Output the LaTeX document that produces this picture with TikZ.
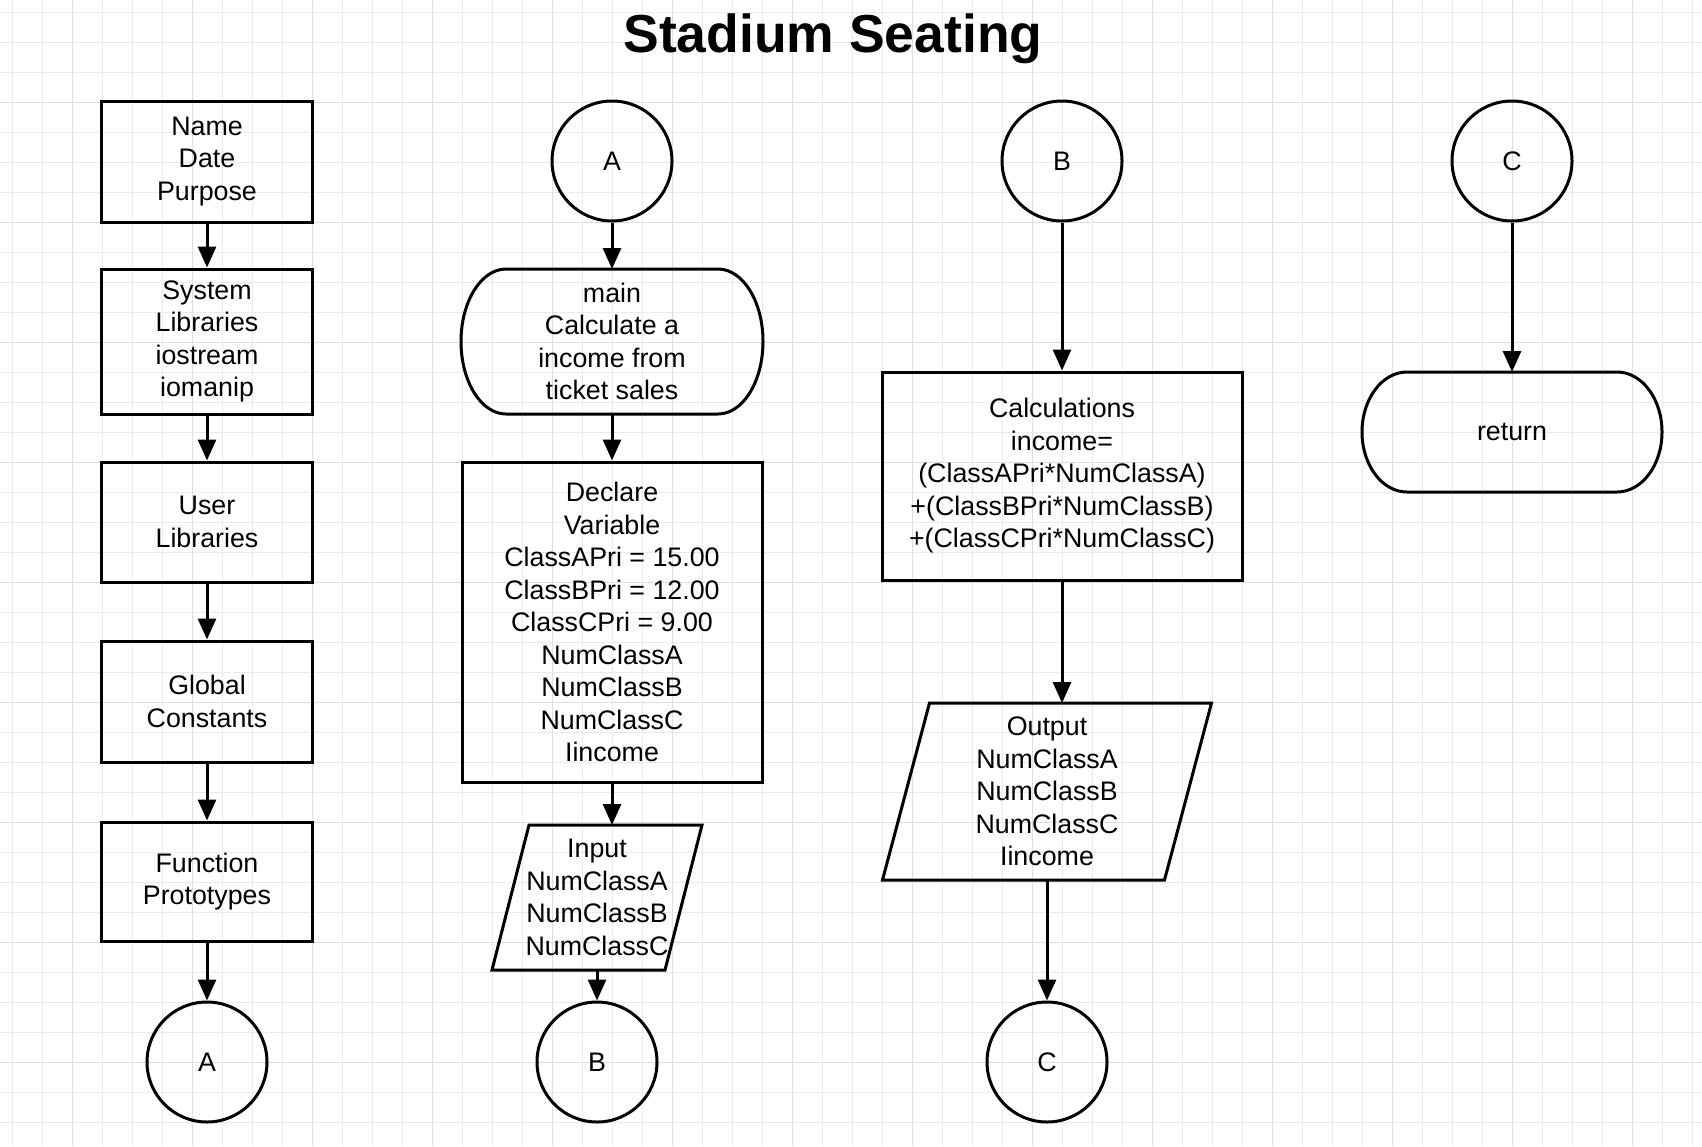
\documentclass[tikz,border=0pt]{standalone}
\usepackage{fontspec}
\setmainfont{Liberation Sans}
\usetikzlibrary{arrows.meta,calc}
\tikzset{
  line/.style={line width=3pt},
  txt/.style={align=center,inner sep=0pt,outer sep=1.5pt,font=\fontsize{26.8}{32.5}\selectfont},
  box/.style={txt,line,draw,minimum width=211pt},
  plain/.style={txt,outer sep=0pt},
  conn/.style={txt,circle,line,draw,minimum size=120pt},
  head/.style={anchor=base,font=\fontsize{53.5}{60}\selectfont\bfseries},
  arr/.style={line,-{Triangle[length=21pt,width=18pt]}},
  minor/.style={line width=1pt,color=black!8},
  major/.style={line width=1pt,color=black!13},
}
%起止框:两端是半椭圆
\newcommand\termline[1]{%
  \draw[line] let \p1=(#1.north west), \p2=(#1.south east), \n1={0.5*(\y1-\y2)} in
    ($(#1.north west)+(45,0)$) -- ($(#1.north east)+(-45,0)$)
    arc[start angle=90,end angle=-90,x radius=45pt,y radius=\n1]
    -- ($(#1.south west)+(45,0)$)
    arc[start angle=270,end angle=90,x radius=45pt,y radius=\n1] -- cycle;}
%输入输出框:平行四边形
\newcommand\slantline[2]{%
  \draw[line] ([xshift=#2pt]#1.north west) -- (#1.north east)
    -- ([xshift=-#2pt]#1.south east) -- (#1.south west) -- cycle;}
\begin{document}
\begin{tikzpicture}[x=1pt,y=-1pt]
    \useasboundingbox[fill=white] (0,0) rectangle (1702,1146);
    %画背景网格
    \foreach \x in {12.7,42.7,...,1702} \draw[minor] (\x,0) -- (\x,1146);
    \foreach \y in {12.7,42.7,...,1146} \draw[minor] (0,\y) -- (1702,\y);
    \foreach \x in {72.7,192.7,...,1702} \draw[major] (\x,0) -- (\x,1146);
    \foreach \y in {102.7,222.7,...,1146} \draw[major] (0,\y) -- (1702,\y);
    \node[head] (title) at (833,52) {Stadium Seating};
    \node[box,minimum height=121pt] (info) at (207,161.5) {Name\\Date\\Purpose};
    \node[box,minimum height=145pt] (syslib) at (207,341.5) {System\\Libraries\\iostream\\iomanip};
    \node[box,minimum height=120pt] (usrlib) at (207,522) {User\\Libraries};
    \node[box,minimum height=121pt] (global) at (207,701.5) {Global\\Constants};
    \node[box,minimum height=119pt] (proto) at (207,881.5) {Function\\Prototypes};
    \node[conn] (endA) at (207,1062) {A};
    \node[conn] (startA) at (612,161) {A};
    \node[plain,minimum width=302pt,minimum height=145pt] (main) at (612,341.5) {main\\Calculate a\\income from\\ticket sales};
    \node[box,minimum width=300pt,minimum height=320pt] (decl) at (612,622) {Declare\\Variable\\ClassAPri = 15.00\\ClassBPri = 12.00\\ClassCPri = 9.00\\NumClassA\\NumClassB\\NumClassC\\Iincome};
    \node[plain,minimum width=210pt,minimum height=145pt] (inp) at (597,897.5) {Input\\NumClassA\\NumClassB\\NumClassC};
    \node[conn] (endB) at (597,1062) {B};
    \node[conn] (startB) at (1062,161) {B};
    \node[box,minimum width=360pt,minimum height=208pt] (calc) at (1062,476) {Calculations\\income=\\(ClassAPri*NumClassA)\\+(ClassBPri*NumClassB)\\+(ClassCPri*NumClassC)};
    \node[plain,minimum width=329pt,minimum height=177pt] (outp) at (1047,791.5) {Output\\NumClassA\\NumClassB\\NumClassC\\Iincome};
    \node[conn] (endC) at (1047,1062) {C};
    \node[conn] (startC) at (1512,161) {C};
    \node[plain,minimum width=300pt,minimum height=120pt] (ret) at (1512,432) {return};
    \termline{main}
    \termline{ret}
    \slantline{inp}{37}
    \slantline{outp}{47}
    \draw[arr] (info) -- (syslib);
    \draw[arr] (syslib) -- (usrlib);
    \draw[arr] (usrlib) -- (global);
    \draw[arr] (global) -- (proto);
    \draw[arr] (proto) -- (endA);
    \draw[arr] (startA) -- (main);
    \draw[arr] (main) -- (decl);
    \draw[arr] (decl) -- (decl.south |- inp.north);
    \draw[arr] (inp) -- (endB);
    \draw[arr] (startB) -- (calc);
    \draw[arr] (calc) -- (calc.south |- outp.north);
    \draw[arr] (outp) -- (endC);
    \draw[arr] (startC) -- (ret);
\end{tikzpicture}
\end{document}
